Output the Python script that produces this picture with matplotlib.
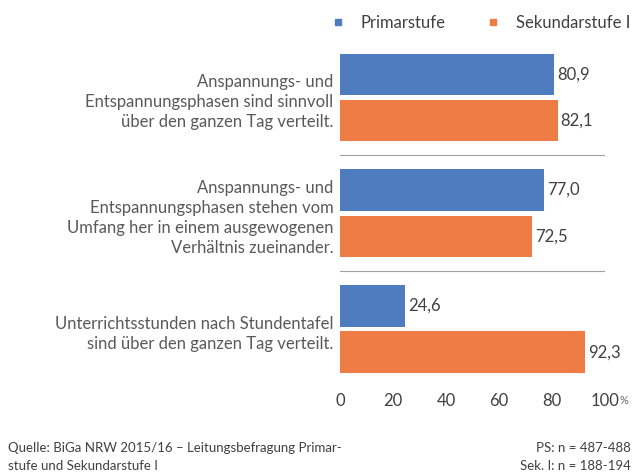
import matplotlib.pyplot as plt
from matplotlib.lines import Line2D
import numpy as np

plt.rcParams['font.family'] = ['Lato', 'DejaVu Sans']

categories = ['Anspannungs- und\nEntspannungsphasen sind sinnvoll\nüber den ganzen Tag verteilt.',
              'Anspannungs- und\nEntspannungsphasen stehen vom\nUmfang her in einem ausgewogenen\nVerhältnis zueinander.',
              'Unterrichtsstunden nach Stundentafel\nsind über den ganzen Tag verteilt.']
primar = [80.9, 77.0, 24.6]
sekundar = [82.1, 72.5, 92.3]
series_names = ['Primarstufe', 'Sekundarstufe I']
ticks = [0, 20, 40, 60, 80, 100]

blue = '#4f7bbf'
orange = '#ee7d45'
txt = '#404040'

fig = plt.figure(figsize=(6.37, 4.75), dpi=100)
W, H = 637, 475
ax = fig.add_axes([340 / W, 1 - 385 / H, (605 - 340) / W, (385 - 40) / H])

y = np.arange(len(categories))
h = 0.36
ax.barh(y - 0.2, primar, height=h, color=blue)
ax.barh(y + 0.2, sekundar, height=h, color=orange)

for i in range(len(categories)):
    ax.text(primar[i] + 1.2, y[i] - 0.2, f'{primar[i]:.1f}'.replace('.', ','),
            va='center', ha='left', fontsize=12, color=txt)
    ax.text(sekundar[i] + 1.2, y[i] + 0.2, f'{sekundar[i]:.1f}'.replace('.', ','),
            va='center', ha='left', fontsize=12, color=txt)
    ax.text(-2.5, y[i] + 0.04, categories[i], ha='right', va='center',
            fontsize=12, color='#595959', linespacing=1.3)

for s in [0.5, 1.5]:
    ax.axhline(s, color='#a0a0a0', lw=0.8)

ax.set_xlim(0, 100)
ax.set_ylim(2.484, -0.497)
ax.set_yticks([])
ax.set_xticks(ticks)
ax.set_xticklabels([str(t) for t in ticks], fontsize=12, color=txt)
ax.tick_params(axis='x', length=0, pad=6)
for sp in ax.spines.values():
    sp.set_visible(False)
fig.text(619 / W, 1 - 401 / H, '%', fontsize=8, color='#666666', va='center')

handles = [Line2D([], [], marker='s', ls='', color=blue, markersize=5),
           Line2D([], [], marker='s', ls='', color=orange, markersize=5)]
fig.legend(handles, series_names, loc='upper right', bbox_to_anchor=(1.0, 1 - 8 / H),
           ncol=2, frameon=False, fontsize=12, handletextpad=0.4, columnspacing=1.8,
           borderaxespad=0, labelcolor=txt)

fig.text(8 / W, 1 - 457 / H, 'Quelle: BiGa NRW 2015/16 – Leitungsbefragung Primar-\nstufe und Sekundarstufe I',
         fontsize=9.5, color=txt, va='center', ha='left', linespacing=1.5)
fig.text(631 / W, 1 - 457 / H, 'PS: n = 487-488\nSek. I: n = 188-194',
         fontsize=9.5, color=txt, va='center', ha='right', linespacing=1.5, multialignment='right')

fig.savefig('out.png', dpi=100, facecolor='white')
